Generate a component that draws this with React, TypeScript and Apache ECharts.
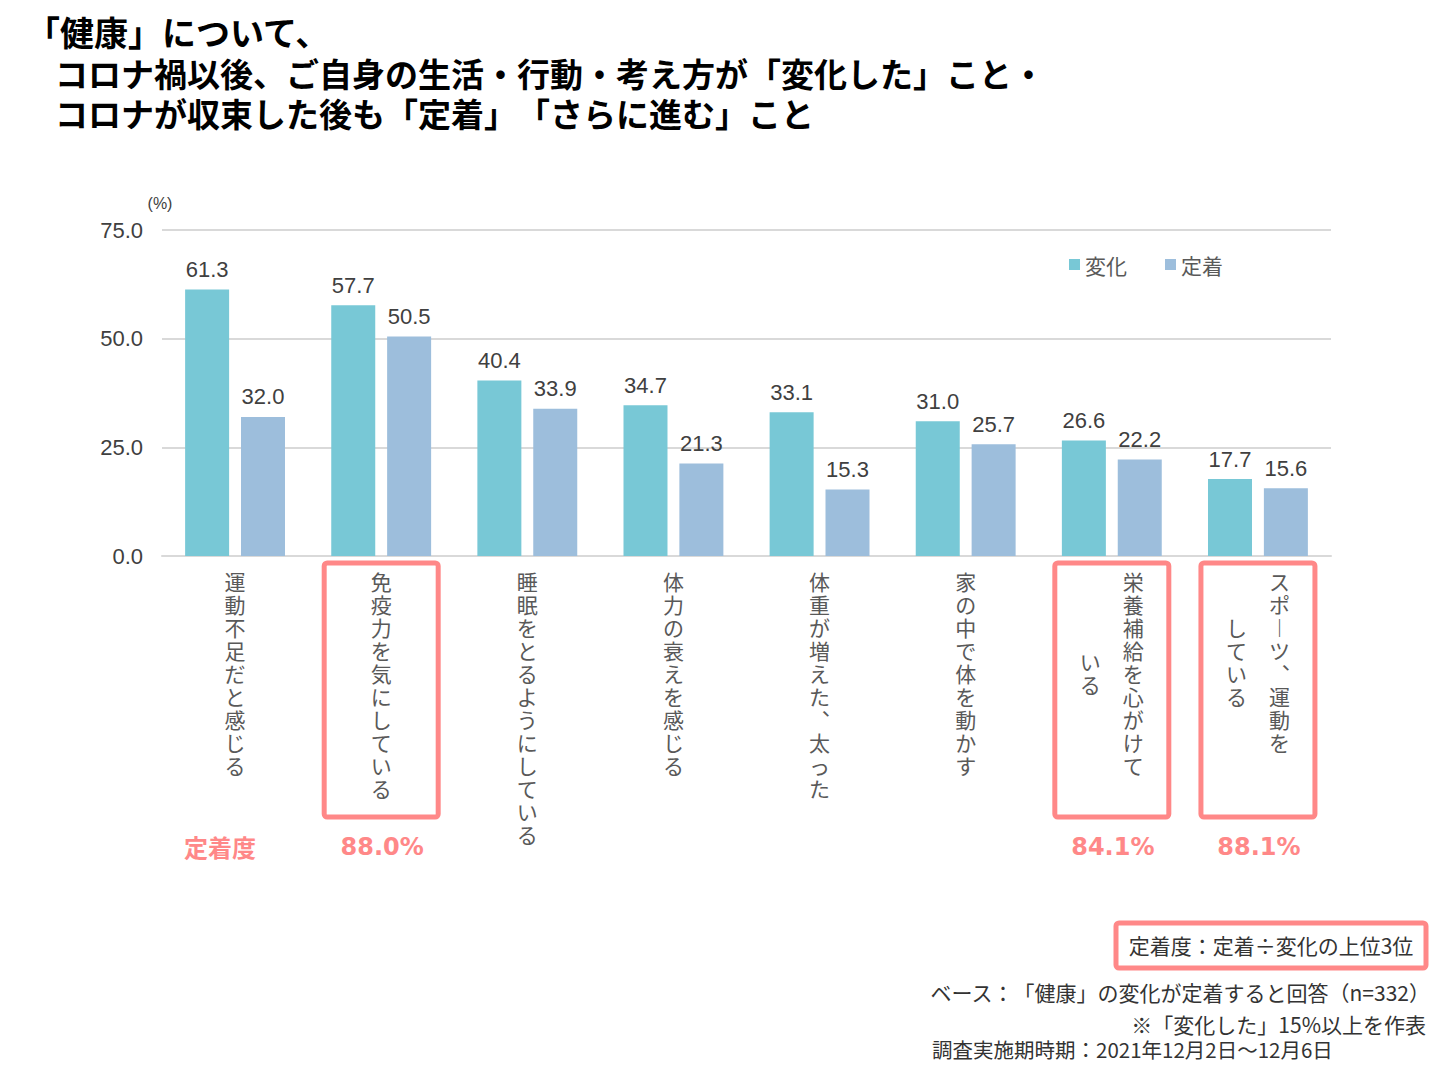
import React, { useEffect, useRef } from "react";
import * as echarts from "echarts";

const categories = [
  "運動不足だと感じる",
  "免疫力を気にしている",
  "睡眠をとるようにしている",
  "体力の衰えを感じる",
  "体重が増えた、太った",
  "家の中で体を動かす",
  "栄養補給を心がけて\nいる",
  "スポーツ、運動を\nしている",
];
const henka = [61.3, 57.7, 40.4, 34.7, 33.1, 31.0, 26.6, 17.7];
const teichaku = [32.0, 50.5, 33.9, 21.3, 15.3, 25.7, 22.2, 15.6];
const teichakudo: (number | null)[] = [null, 88.0, null, null, null, null, 84.1, 88.1];
const seriesNames = ["変化", "定着"];
const yTicks = [0, 25, 50, 75];

const titleLine1 = "「健康」について、";
const titleLine2 = "コロナ禍以後、ご自身の生活・行動・考え方が「変化した」こと・";
const titleLine3 = "コロナが収束した後も「定着」「さらに進む」こと";
const rowLabel = "定着度";
const boxNote = "定着度：定着÷変化の上位3位";
const note1 = "ベース：「健康」の変化が定着すると回答（n=332）";
const note2 = "※「変化した」15%以上を作表";
const note3 = "調査実施期時期：2021年12月2日～12月6日";

const TEAL = "#78C8D6";
const BLUE = "#9DBEDC";
const PINK = "#FF8888";
const CJK = "'Noto Sans CJK JP', sans-serif";
const LAT = "'Liberation Sans', 'Noto Sans CJK JP', sans-serif";

const toVertical = (s: string) =>
  s
    .replace(/、/g, "︑")
    .replace(/ー/g, "︱")
    .split("")
    .join("\n");

export default function App() {
  const ref = useRef<HTMLDivElement>(null);
  useEffect(() => {
    if (!ref.current) return;
    ref.current.style.setProperty("text-spacing-trim", "space-all");
    const chart = echarts.init(ref.current, null, { renderer: "svg" });
    chart.setOption({
      animation: false,
      backgroundColor: "#ffffff",
      textStyle: { fontFamily: CJK },
      grid: { left: 162, right: 122, top: 230, bottom: 521 },
      legend: {
        data: seriesNames,
        left: 1064,
        top: 249,
        icon: "rect",
        itemWidth: 11,
        itemHeight: 11,
        itemGap: 38,
        textStyle: { fontSize: 21, color: "#595959", fontFamily: CJK },
      },
      xAxis: {
        type: "category",
        data: categories,
        axisLine: { lineStyle: { color: "#D9D9D9", width: 2 } },
        axisTick: { show: false },
        axisLabel: { show: false },
      },
      yAxis: {
        type: "value",
        min: yTicks[0],
        max: yTicks[yTicks.length - 1],
        interval: 25,
        axisLine: { show: false },
        axisTick: { show: false },
        axisLabel: {
          margin: 19,
          fontSize: 22,
          color: "#404040",
          fontFamily: LAT,
          formatter: (v: number) => v.toFixed(1),
        },
        splitLine: { lineStyle: { color: "#D9D9D9", width: 2 } },
      },
      series: [
        {
          name: seriesNames[0],
          type: "bar",
          data: henka,
          barWidth: 44,
          barGap: "27%",
          itemStyle: { color: TEAL },
          label: {
            show: true,
            position: "top",
            distance: 9,
            fontSize: 22,
            color: "#404040",
            fontFamily: LAT,
            formatter: (p: any) => Number(p.value).toFixed(1),
          },
        },
        {
          name: seriesNames[1],
          type: "bar",
          data: teichaku,
          barWidth: 44,
          itemStyle: { color: BLUE },
          label: {
            show: true,
            position: "top",
            distance: 9,
            fontSize: 22,
            color: "#404040",
            fontFamily: LAT,
            formatter: (p: any) => Number(p.value).toFixed(1),
          },
        },
      ],
    });

    const graphics: any[] = [];
    const lineH = 23;
    const colGap = 43;
    const labelTop = 569;
    categories.forEach((cat, i) => {
      const cx = chart.convertToPixel({ xAxisIndex: 0 }, i) as number;
      const cols = cat.split("\n");
      const maxLen = Math.max(...cols.map((c) => c.length));
      const centerY = labelTop + (maxLen * lineH) / 2;
      cols.forEach((col, j) => {
        const x = cx + ((cols.length - 1) / 2 - j) * colGap;
        graphics.push({
          type: "text",
          x,
          y: centerY - (col.length * lineH) / 2,
          style: {
            text: toVertical(col),
            fontSize: 21,
            lineHeight: lineH,
            fill: "#595959",
            fontFamily: CJK,
            align: "center",
            verticalAlign: "top",
          },
        });
      });
      const td = teichakudo[i];
      if (td !== null) {
        graphics.push({
          type: "rect",
          shape: { x: cx - 57, y: 563, width: 114, height: 254, r: 3 },
          style: { fill: "none", stroke: PINK, lineWidth: 5 },
        });
        graphics.push({
          type: "text",
          x: cx + 1,
          y: 847,
          style: {
            text: td.toFixed(1) + "%",
            fontSize: 24,
            fontWeight: "bold",
            fill: PINK,
            fontFamily: "'DejaVu Sans', sans-serif",
            align: "center",
            verticalAlign: "middle",
          },
        });
      }
    });
    graphics.push(
      {
        type: "text",
        x: 220,
        y: 846,
        style: { text: rowLabel, fontSize: 24, fontWeight: "bold", fill: PINK, fontFamily: CJK, align: "center", verticalAlign: "middle" },
      },
      {
        type: "text",
        x: 160,
        y: 203,
        style: { text: "(%)", fontSize: 16, fill: "#404040", fontFamily: LAT, align: "center", verticalAlign: "middle" },
      },
      {
        type: "text",
        x: 26,
        y: 31,
        style: { text: titleLine1, fontSize: 34, fontWeight: "bold", fill: "#000", fontFamily: CJK, align: "left", verticalAlign: "middle" },
      },
      {
        type: "text",
        x: 55,
        y: 73,
        style: { text: titleLine2, fontSize: 33, fontWeight: "bold", fill: "#000", fontFamily: CJK, align: "left", verticalAlign: "middle" },
      },
      {
        type: "text",
        x: 55,
        y: 113,
        style: { text: titleLine3, fontSize: 33, fontWeight: "bold", fill: "#000", fontFamily: CJK, align: "left", verticalAlign: "middle" },
      },
      {
        type: "rect",
        shape: { x: 1116, y: 923, width: 310, height: 45, r: 3 },
        style: { fill: "none", stroke: PINK, lineWidth: 5 },
      },
      {
        type: "text",
        x: 1271,
        y: 945,
        style: { text: boxNote, fontSize: 21, fill: "#333", fontFamily: CJK, align: "center", verticalAlign: "middle" },
      },
      {
        type: "text",
        x: 1430,
        y: 992,
        style: { text: note1, fontSize: 21, fill: "#333", fontFamily: CJK, align: "right", verticalAlign: "middle" },
      },
      {
        type: "text",
        x: 1426,
        y: 1024,
        style: { text: note2, fontSize: 21, fill: "#333", fontFamily: CJK, align: "right", verticalAlign: "middle" },
      },
      {
        type: "text",
        x: 932,
        y: 1049,
        style: { text: note3, fontSize: 20.5, fill: "#333", fontFamily: CJK, align: "left", verticalAlign: "middle" },
      }
    );
    chart.setOption({ graphic: graphics });
    return () => chart.dispose();
  }, []);
  return (
    <div
      ref={ref}
      style={{ position: "fixed", left: 0, top: 0, width: 1453, height: 1077, background: "#fff" }}
    />
  );
}
